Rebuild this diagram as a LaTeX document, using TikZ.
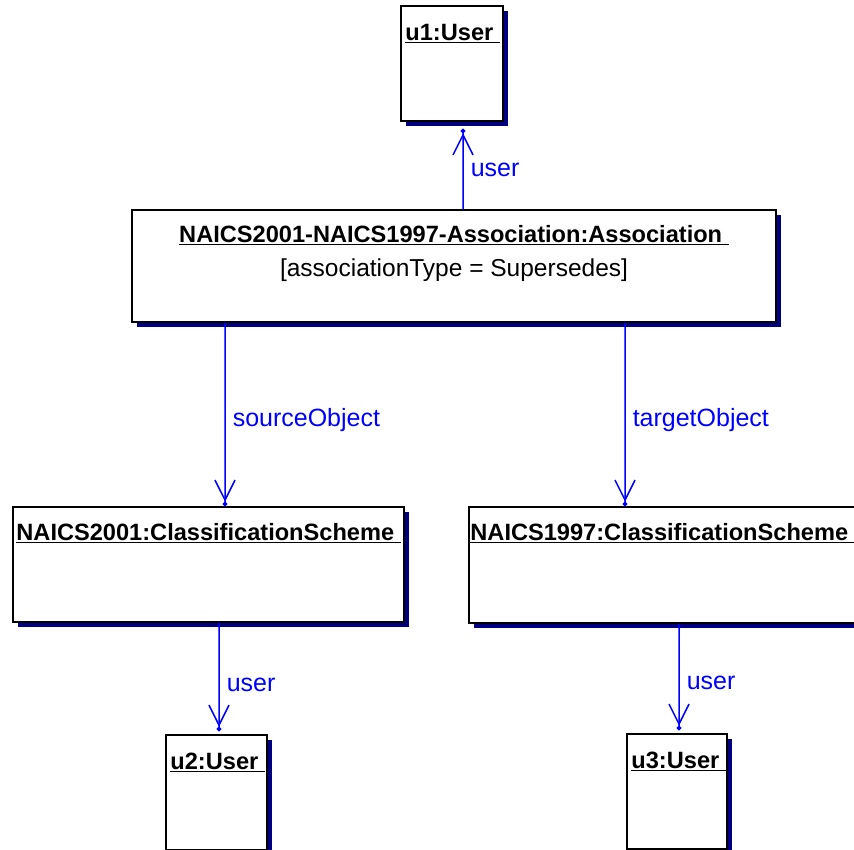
\documentclass[tikz,border=0pt]{standalone}
\usepackage{fontspec}
\setmainfont{Liberation Sans}
\usetikzlibrary{arrows.meta,shadows,positioning}
\definecolor{navy}{RGB}{0,0,128}
\definecolor{linkblue}{RGB}{0,0,255}
\tikzset{
  objbox/.style={rectangle, draw=black, line width=1.5bp, fill=white, inner sep=0pt,
    general shadow={fill=navy, shadow xshift=5bp, shadow yshift=-5bp}},
  objname/.style={inner sep=0pt, font=\fontsize{23.6bp}{26bp}\selectfont\bfseries},
  attr/.style={inner sep=0pt, font=\fontsize{24.5bp}{28bp}\selectfont},
  link/.style={draw=linkblue, line width=1.5bp,
    -{Straight Barb[length=20bp,width=20bp]Circle[length=4.5bp]}},
  role/.style={text=linkblue, inner sep=0pt, anchor=west, xshift=7bp,
    font=\fontsize{25bp}{28bp}\selectfont}
}
\begin{document}
\begin{tikzpicture}[x=1bp, y=-1bp]
    \useasboundingbox (0,0) rectangle (854,850);
    \clip (0,0) rectangle (854,850);

    % objects
    \node[objbox, minimum width=102bp, minimum height=115bp] (u1) at (452,63.5) {};
    \node[objbox, minimum width=644bp, minimum height=112bp] (assoc) at (454,266) {};
    \node[objbox, minimum width=391bp, minimum height=115bp] (n2001) at (208.5,564.5) {};
    \node[objbox, minimum width=395bp, minimum height=116bp] (n1997) at (666.5,565) {};
    \node[objbox, minimum width=101bp, minimum height=115bp] (u2) at (216.5,792.5) {};
    \node[objbox, minimum width=100bp, minimum height=115bp] (u3) at (677,791.5) {};

    % object names
    \node[objname, anchor=south west] (u1name) at ([xshift=5bp,yshift=-38bp]u1.north west) {\underline{u1:User\ }};
    \node[objname, anchor=south] (assocname) at ([yshift=-36bp]assoc.north) {\underline{NAICS2001-NAICS1997-Association:Association\ }};
    \node[attr] (assocattr) at ([yshift=-61bp]assoc.north) {[associationType = Supersedes]};
    \node[objname, anchor=south west] (n2001name) at ([xshift=4bp,yshift=-37bp]n2001.north west) {\underline{NAICS2001:ClassificationScheme\ }};
    \node[objname, anchor=south west] (n1997name) at ([xshift=2bp,yshift=-37bp]n1997.north west) {\underline{NAICS1997:ClassificationScheme\ }};
    \node[objname, anchor=south west] (u2name) at ([xshift=5bp,yshift=-38bp]u2.north west) {\underline{u2:User\ }};
    \node[objname, anchor=south west] (u3name) at ([xshift=5bp,yshift=-38bp]u3.north west) {\underline{u3:User\ }};

    % links
    \draw[link] ([xshift=9bp]assoc.north) -- ([xshift=11bp,yshift=-7bp]u1.south)
        node[role, pos=0.49] (l1) {user};
    \draw[link] ([xshift=-229bp]assoc.south) -- ([xshift=16.5bp]n2001.north)
        node[role, pos=0.53] (l2) {sourceObject};
    \draw[link] ([xshift=171bp]assoc.south) -- ([xshift=-41.5bp]n1997.north)
        node[role, pos=0.53] (l3) {targetObject};
    \draw[link, shorten >=3bp] ([xshift=10.5bp]n2001.south) -- ([xshift=2.5bp]u2.north)
        node[role, pos=0.56] (l4) {user};
    \draw[link, shorten >=3bp] ([xshift=12.5bp]n1997.south) -- ([xshift=2bp]u3.north)
        node[role, pos=0.54] (l5) {user};
\end{tikzpicture}
\end{document}
